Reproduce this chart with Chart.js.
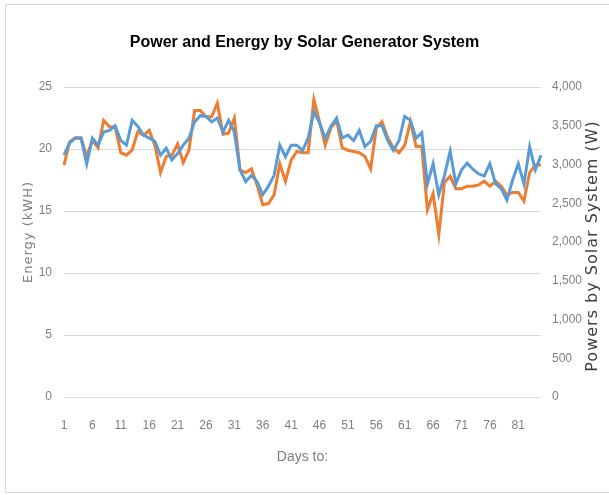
<!DOCTYPE html>
<html>
<head>
<meta charset="utf-8">
<script src="https://cdn.jsdelivr.net/npm/chart.js@4"></script>
<style>
  html, body { margin: 0; padding: 0; background: #fff; }
  #wrap { position: relative; width: 609px; height: 495px; }
  #frame { position: absolute; left: 5px; top: 4px; width: 610px; height: 487px;
           border: 1px solid #d9d9d9; pointer-events: none; }
</style>
</head>
<body>
<div id="wrap">
  <canvas id="solarChart" width="609" height="495"></canvas>
  <div id="frame"></div>
</div>
<script>
// jours 1..85
const days = [1, 2, 3, 4, 5, 6, 7, 8, 9, 10, 11, 12, 13, 14, 15, 16, 17, 18, 19, 20,
    21, 22, 23, 24, 25, 26, 27, 28, 29, 30, 31, 32, 33, 34, 35, 36, 37, 38, 39, 40,
    41, 42, 43, 44, 45, 46, 47, 48, 49, 50, 51, 52, 53, 54, 55, 56, 57, 58, 59, 60,
    61, 62, 63, 64, 65, 66, 67, 68, 69, 70, 71, 72, 73, 74, 75, 76, 77, 78, 79, 80,
    81, 82, 83, 84, 85];

// Energy (kWH) - axe gauche
const energy = [18.7, 20.6, 20.9, 20.9, 19.4, 20.7, 20.1, 22.3, 21.8, 21.8,
    19.7, 19.5, 19.9, 21.4, 21.1, 21.5, 20.3, 18.1, 19.4, 19.5,
    20.4, 18.9, 19.9, 23.1, 23.1, 22.6, 22.6, 23.7, 21.2, 21.3,
    22.5, 18.3, 18.1, 18.4, 17.1, 15.5, 15.6, 16.3, 18.8, 17.4,
    19.1, 19.8, 19.7, 19.7, 24.0, 22.2, 20.3, 21.7, 22.3, 20.1,
    19.9, 19.8, 19.7, 19.4, 18.4, 21.7, 22.2, 20.9, 20.1, 19.7,
    20.3, 22.2, 20.2, 20.2, 15.1, 16.4, 13.1, 17.3, 17.8, 16.8,
    16.8, 17.0, 17.0, 17.1, 17.4, 17.0, 17.4, 17.0, 16.3, 16.5,
    16.5, 15.8, 18.1, 18.7, 18.7];

// Power (W) - axe droit
const power = [3120, 3280, 3340, 3340, 3010, 3340, 3250, 3420, 3440, 3500,
    3310, 3250, 3570, 3490, 3380, 3340, 3300, 3120, 3210, 3060,
    3140, 3250, 3340, 3550, 3630, 3620, 3550, 3600, 3420, 3570,
    3420, 2930, 2780, 2860, 2780, 2610, 2720, 2860, 3250, 3100,
    3250, 3250, 3180, 3340, 3680, 3540, 3340, 3490, 3600, 3340,
    3380, 3310, 3440, 3230, 3300, 3500, 3500, 3310, 3180, 3310,
    3620, 3570, 3340, 3410, 2750, 3010, 2610, 2860, 3170, 2750,
    2930, 3020, 2940, 2880, 2850, 3010, 2750, 2690, 2540, 2800,
    3010, 2750, 3230, 2930, 3120];

const energyTicks = [0, 5, 10, 15, 20, 25];
const powerTicks = [0, 500, 1000, 1500, 2000, 2500, 3000, 3500, 4000];

const orange = '#ED7D31';
const blue = '#5B9BD5';
const tickFont = { family: "'Liberation Sans', sans-serif", size: 12 };

// titres des axes, lus de bas en haut comme l'original
const axisTitles = {
    id: 'axisTitles',
    afterDraw(chart) {
        const ctx = chart.ctx;
        const draw = (text, x, y, font, color, spacing) => {
            ctx.save();
            ctx.translate(x, y);
            ctx.rotate(-Math.PI / 2);
            ctx.font = font;
            ctx.letterSpacing = spacing;
            ctx.fillStyle = color;
            ctx.textAlign = 'center';
            ctx.textBaseline = 'middle';
            ctx.fillText(text, 0, 0);
            ctx.restore();
        };
        draw('Energy (kWH)', 29, 232, "13px 'DejaVu Sans', sans-serif", '#7f7f7f', '1px');
        draw('Powers by Solar System (W)', 593, 246, "16px 'DejaVu Sans', sans-serif", '#404040', '1px');
    }
};

Chart.defaults.font.family = tickFont.family;
Chart.defaults.color = '#7f7f7f';

new Chart(document.getElementById('solarChart').getContext('2d'), {
    type: 'line',
    data: {
        labels: days,
        datasets: [
            {
                label: 'Power (W)',
                data: power,
                yAxisID: 'yPower',
                borderColor: blue,
                backgroundColor: blue,
                borderWidth: 3,
                pointRadius: 0,
                tension: 0
            },
            {
                label: 'Energy (kWH)',
                data: energy,
                yAxisID: 'yEnergy',
                borderColor: orange,
                backgroundColor: orange,
                borderWidth: 3,
                pointRadius: 0,
                tension: 0
            }
        ]
    },
    options: {
        responsive: false,
        animation: false,
        layout: { padding: 0 },
        plugins: {
            legend: { display: false },
            tooltip: { enabled: false },
            title: {
                display: true,
                text: 'Power and Energy by Solar Generator System',
                color: '#000',
                font: { family: "'Liberation Sans', sans-serif", size: 16, weight: 'bold' },
                padding: { top: 33, bottom: 34.8 }
            }
        },
        scales: {
            x: {
                type: 'category',
                offset: false,
                grid: { display: false, drawTicks: false },
                border: { display: false },
                ticks: {
                    autoSkip: false,
                    maxRotation: 0,
                    padding: 21,
                    font: tickFont,
                    callback: function (val, i) { return i % 5 === 0 ? days[i] : ''; }
                },
                title: {
                    display: true,
                    text: 'Days to:',
                    font: { family: tickFont.family, size: 14 },
                    padding: { top: 0, bottom: 29.6 }
                },
                afterFit: function (scale) { scale.height = 98; }
            },
            yEnergy: {
                position: 'left',
                min: 0,
                max: 25,
                grid: { color: '#d9d9d9', drawTicks: false },
                border: { display: false },
                afterBuildTicks: function (scale) { scale.ticks = energyTicks.map(v => ({ value: v })); },
                ticks: { padding: 12, font: tickFont },
                afterFit: function (scale) { scale.width = 64; }
            },
            yPower: {
                position: 'right',
                min: 0,
                max: 4000,
                grid: { drawOnChartArea: false, drawTicks: false },
                border: { display: false },
                afterBuildTicks: function (scale) { scale.ticks = powerTicks.map(v => ({ value: v })); },
                ticks: {
                    padding: 11,
                    font: tickFont,
                    callback: function (v) { return v.toLocaleString('en-US'); }
                },
                afterFit: function (scale) { scale.width = 68; }
            }
        }
    },
    plugins: [axisTitles]
});
</script>
</body>
</html>
